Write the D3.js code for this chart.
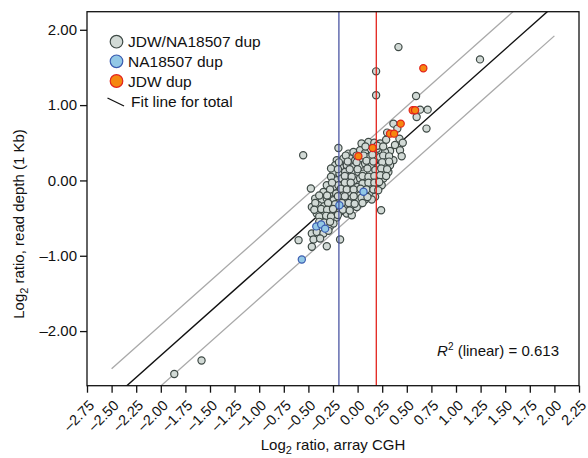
<!DOCTYPE html>
<html><head><meta charset="utf-8">
<script src="https://cdn.jsdelivr.net/npm/d3@7"></script>
<style>body{margin:0;background:#fff}svg{display:block}text{font-family:"Liberation Sans",Arial,Helvetica,sans-serif;fill:#111}</style>
</head><body>
<svg id="c" width="588" height="458"></svg>
<script>
// ---- data ----
const xTicks = [-2.75,-2.5,-2.25,-2,-1.75,-1.5,-1.25,-1,-0.75,-0.5,-0.25,0,0.25,0.5,0.75,1,1.25,1.5,1.75,2,2.25];
const yTicks = [-2,-1,0,1,2];
const xDomain = [-2.75, 2.25];
const yDomain = [-2.725, 2.24];
const fitSlope = 1.162, fitIntercept = 0.0, bandOffset = 0.405, fitRange = [-2.5, 2.0];
const vLineBlue = -0.19, vLineRed = 0.19;
const r2Text = "0.613";
const legendLabels = ["JDW/NA18507 dup","NA18507 dup","JDW dup","Fit line for total"];

const bothDup = [
 [0.04,0.49],[0.11,0.51],[0.17,0.50],[0.23,0.49],[0.29,0.54],[0.33,0.39],[0.38,0.47],[0.30,0.635],
 [0.364,0.754],[0.404,0.688],[0.425,0.555],[0.459,0.50],[0.431,0.40],[0.448,0.321],[0.60,0.843],
 [0.635,0.94],[0.712,0.94],[0.70,0.688],
 [-0.093,0.356],[-0.042,0.378],[0.025,0.40],[0.076,0.365],[0.228,0.40],[0.279,0.378],[0.195,0.42],
 [-0.212,0.268],[-0.144,0.29],[-0.076,0.29],[-0.025,0.268],[0.042,0.29],[0.11,0.312],[0.178,0.29],[0.228,0.312],[0.296,0.29],[0.364,0.268],
 [-0.228,0.202],[-0.178,0.179],[-0.11,0.202],[-0.042,0.179],[0.025,0.202],[0.076,0.224],[0.144,0.202],[0.211,0.179],[0.279,0.202],[0.33,0.202],
 [-0.245,0.113],[-0.184,0.091],[-0.127,0.113],[-0.059,0.10],[0.008,0.113],[0.059,0.091],[0.127,0.113],[0.195,0.091],[0.262,0.126],[0.313,0.113],
 [-0.212,0.003],[-0.161,0.025],[-0.093,0.011],[-0.036,0.003],[0.025,0.025],[0.086,0.003],[0.144,0.025],[0.201,0.003],[0.262,0.025],
 [-0.313,-0.064],[-0.245,-0.086],[-0.195,-0.064],[-0.127,-0.077],[-0.059,-0.064],[-0.002,-0.086],[0.127,-0.086],[0.195,-0.064],[0.245,-0.064],
 [-0.475,-0.108],[-0.347,-0.152],[-0.279,-0.165],[-0.218,-0.174],[-0.144,-0.152],[-0.093,-0.174],[-0.025,-0.152],[0.025,-0.196],[0.12,-0.174],[0.178,-0.218],
 [-0.431,-0.241],[-0.364,-0.263],[-0.313,-0.241],[-0.245,-0.263],[-0.178,-0.254],[-0.117,-0.263],[-0.059,-0.241],[-0.002,-0.263],[0.076,-0.254],[0.144,-0.254],
 [-0.465,-0.352],[-0.398,-0.329],[-0.34,-0.342],[-0.279,-0.352],[-0.228,-0.316],[-0.127,-0.352],[-0.069,-0.36],[-0.008,-0.352],[0.239,-0.395],
 [-0.415,-0.44],[-0.354,-0.417],[-0.296,-0.44],[-0.245,-0.431],[-0.178,-0.417],[-0.11,-0.44],[-0.059,-0.462],
 [-0.364,-0.506],[-0.313,-0.529],[-0.252,-0.519],[-0.212,-0.493],
 [-0.279,-0.607],[-0.245,-0.573],
 [-0.465,-0.705],[-0.415,-0.683],[-0.347,-0.705],[-0.296,-0.669],
 [-0.60,-0.793],[-0.448,-0.784],[-0.381,-0.771],[-0.178,-0.784],
 [-0.465,-0.881],[-0.313,-0.873],
 [0.08,0.45],[0.20,0.46],[0.26,0.45],
 [-0.12,0.33],[-0.01,0.33],[0.06,0.33],[0.15,0.34],[0.26,0.33],[0.32,0.32],
 [-0.19,0.24],[-0.10,0.25],[-0.01,0.24],[0.09,0.26],[0.16,0.25],[0.25,0.24],[0.32,0.25],
 [-0.27,0.16],[-0.20,0.15],[-0.08,0.15],[0.0,0.15],[0.10,0.16],[0.18,0.14],[0.24,0.16],[0.30,0.15],
 [-0.27,0.05],[-0.13,0.06],[-0.06,0.05],[0.05,0.06],[0.11,0.05],[0.17,0.06],[0.23,0.07],[0.29,0.06],
 [-0.26,-0.03],[-0.13,-0.03],[-0.07,-0.03],[0.05,-0.04],[0.11,-0.03],[0.17,-0.03],[0.22,-0.02],
 [-0.28,-0.12],[-0.17,-0.11],[-0.11,-0.12],[-0.04,-0.12],[0.03,-0.11],[0.09,-0.12],[0.16,-0.12],[0.21,-0.13],
 [-0.39,-0.2],[-0.31,-0.2],[-0.20,-0.21],[-0.13,-0.21],[-0.04,-0.21],[0.04,-0.23],[0.10,-0.22],
 [-0.43,-0.3],[-0.30,-0.3],[-0.16,-0.3],[-0.09,-0.3],[-0.03,-0.31],[0.05,-0.3],
 [-0.44,-0.39],[-0.37,-0.38],[-0.31,-0.39],[-0.25,-0.38],[-0.15,-0.39],[-0.08,-0.4],
 [-0.39,-0.48],[-0.32,-0.47],[-0.27,-0.48],[-0.2,-0.46],
 [-0.39,-0.55],[-0.34,-0.56],[-0.28,-0.55],
 [-0.553,0.334],[-0.195,0.43],[0.415,1.77],[1.244,1.607],[0.594,1.12],[0.188,1.448],[0.188,1.13],
 [-1.863,-2.57],[-1.586,-2.39]
];
const naDup = [[0.06,-0.15],[-0.185,-0.33],[-0.42,-0.61],[-0.37,-0.585],[-0.33,-0.64],[-0.567,-1.05]];
const jdwDup = [[0.56,0.931],[0.584,0.931],[0.668,1.49],[0.438,0.754],[0.33,0.621],[0.371,0.621],[0.154,0.431],[0.008,0.321]];

// ---- styles ----
const styles = {
  both:{fill:"#d2dad6",stroke:"#3f4a46"},
  na:{fill:"#92c8e6",stroke:"#3b5cb0"},
  jdw:{fill:"#f5870f",stroke:"#e3231c"}
};

const svg = d3.select("#c");
const L=87, R=579, T=11.7, B=385.7;
const x = d3.scaleLinear().domain(xDomain).range([L,R]);
const y = d3.scaleLinear().domain(yDomain).range([B,T]);

svg.append("defs").append("clipPath").attr("id","clip")
  .append("rect").attr("x",L).attr("y",T).attr("width",R-L).attr("height",B-T);

const plot = svg.append("g").attr("clip-path","url(#clip)");

const line = d3.line().x(d=>x(d[0])).y(d=>y(d[1]));
[bandOffset,-bandOffset].forEach(o=>{
  plot.append("path").attr("d",line(fitRange.map(v=>[v,fitSlope*v+fitIntercept+o])))
    .attr("stroke","#a9a9a9").attr("stroke-width",1.3).attr("fill","none");
});
plot.append("path").attr("d",line(fitRange.map(v=>[v,fitSlope*v+fitIntercept])))
  .attr("stroke","#111").attr("stroke-width",1.4).attr("fill","none");

function drawPts(data, st){
  plot.selectAll(null).data(data).enter().append("circle")
    .attr("cx",d=>x(d[0])).attr("cy",d=>y(d[1])).attr("r",3.6)
    .attr("fill",st.fill).attr("stroke",st.stroke).attr("stroke-width",1.2);
}
drawPts(bothDup, styles.both);
drawPts(naDup, styles.na);
drawPts(jdwDup, styles.jdw);

plot.append("line").attr("x1",x(vLineBlue)).attr("x2",x(vLineBlue)).attr("y1",T).attr("y2",B)
  .attr("stroke","#4a55a2").attr("stroke-width",1.3);
plot.append("line").attr("x1",x(vLineRed)).attr("x2",x(vLineRed)).attr("y1",T).attr("y2",B)
  .attr("stroke","#e3231c").attr("stroke-width",1.3);

svg.append("rect").attr("x",L).attr("y",T).attr("width",R-L).attr("height",B-T)
  .attr("fill","none").attr("stroke","#111").attr("stroke-width",1.3);

const fmt = v => d3.format(".2f")(v).replace("−","–");
const yAxis = svg.append("g").attr("transform",`translate(${L},0)`)
  .call(d3.axisLeft(y).tickValues(yTicks).tickFormat(fmt).tickSize(7).tickPadding(3));
const xAxis = svg.append("g").attr("transform",`translate(0,${B})`)
  .call(d3.axisBottom(x).tickValues(xTicks).tickFormat(fmt).tickSize(7));
[xAxis,yAxis].forEach(a=>{
  a.select(".domain").remove();
  a.selectAll(".tick line").attr("stroke","#111").attr("stroke-width",1.3);
  a.selectAll("text").attr("fill","#111").style("font-family",'"Liberation Sans",Arial,sans-serif');
});
yAxis.selectAll("text").style("font-size","15px");
xAxis.selectAll("text").style("font-size","14.5px")
  .attr("text-anchor","end").attr("dy","0.35em").attr("y",0)
  .attr("transform","translate(4,17) rotate(-45)");

const yt = svg.append("text").attr("transform","translate(24,224) rotate(-90)")
  .attr("text-anchor","middle").style("font-size","15px");
yt.append("tspan").text("Log");
yt.append("tspan").attr("dy",4).style("font-size","11px").text("2");
yt.append("tspan").attr("dy",-4).text(" ratio, read depth (1 Kb)");

const xt = svg.append("text").attr("x",333).attr("y",450)
  .attr("text-anchor","middle").style("font-size","15px");
xt.append("tspan").text("Log");
xt.append("tspan").attr("dy",4).style("font-size","11px").text("2");
xt.append("tspan").attr("dy",-4).text(" ratio, array CGH");

const lg = svg.append("g");
const lgSt = [styles.both, styles.na, styles.jdw];
const lgY = [41.7, 61.3, 81];
lgSt.forEach((st,i)=>{
  lg.append("circle").attr("cx",116.5).attr("cy",lgY[i]).attr("r",6.3)
    .attr("fill",st.fill).attr("stroke",st.stroke).attr("stroke-width",1.2);
  lg.append("text").attr("x",128).attr("y",lgY[i]).attr("dy","0.36em")
    .style("font-size","15.5px").text(legendLabels[i]);
});
lg.append("line").attr("x1",107.5).attr("y1",98).attr("x2",124).attr("y2",106)
  .attr("stroke","#111").attr("stroke-width",1.3);
lg.append("text").attr("x",131).attr("y",101).attr("dy","0.36em")
  .style("font-size","15.5px").text(legendLabels[3]);

const rt = svg.append("text").attr("x",559).attr("y",356).attr("text-anchor","end").style("font-size","15px");
rt.append("tspan").style("font-style","italic").text("R");
rt.append("tspan").attr("dy",-6).style("font-size","10px").text("2");
rt.append("tspan").attr("dy",6).text(" (linear) = " + r2Text);
</script>
</body></html>
